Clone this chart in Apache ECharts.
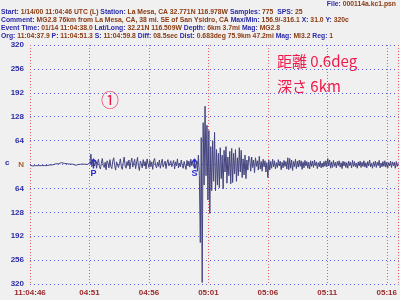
<!DOCTYPE html>
<html><head><meta charset="utf-8">
<script src="https://cdn.jsdelivr.net/npm/echarts@6/dist/echarts.min.js"></script>
<style>html,body{margin:0;padding:0;background:#f0f0f0}#c{width:400px;height:300px}</style>
</head><body><div id="c"></div>
<script>
// seismogram: 25 SPS, every 2nd sample kept (dt = 0.08 s)
var sampleStep = 0.08;
var amplitudes = [
-2,-3,-2,-4,-3,-2,-3,-4,-2,-3,-1,-2,-3,-2,-4,-3,-2,-1,-3,-2,-2,
-1,-2,0,-1,1,0,2,1,3,2,4,3,5,2,4,3,5,4,2,3,
2,1,3,0,1,-1,0,-2,1,-1,0,2,-1,1,-2,0,1,-1,2,0,-3,1,
4,28,-6,10,
8,-4,12,-10,5,14,-6,-12,3,16,-2,-8,6,-14,10,4,-9,13,-5,-11,
9,18,-3,-15,7,11,-8,2,15,-6,-13,5,20,-4,-10,8,-3,12,-12,6,
17,-7,-2,14,-11,4,19,-5,-16,9,3,-9,13,-4,8,-12,15,2,-8,11,
-6,7,-13,10,16,-3,-9,6,-5,12,-10,3,14,-7,-2,9,-11,5,13,-4,
-8,10,-6,3,11,-12,7,-3,15,-9,4,-6,12,-2,-10,8,5,-13,11,-4,9,-7,14,-3,6,-5,
4,-10,8,-18,25,-30,-209,72,-316,112,-55,156,-30,105,-95,91,-131,48,-70,64,-45,86,-70,40,-55,30,-62,45,
-38,25,-65,38,-20,48,-50,20,-30,35,-52,43,-48,30,-25,40,-45,18,-30,45,-20,38,-35,15,-28,25,-38,12,-15,22,
15,-18,20,-8,12,-22,18,-5,10,-15,22,-12,8,-18,14,-6,10,-20,5,-35,
12,-15,8,-10,14,-6,10,-12,5,-8,13,-4,9,-14,6,-9,11,-5,8,-12,
18,-14,16,-10,12,-16,8,-6,14,-11,9,-7,12,-5,10,-13,7,-9,11,-4,
8,-10,6,-12,10,-5,9,-8,12,-3,7,-11,5,-6,9,-9,4,-7,8,-5,
10,-6,16,-4,12,-10,7,-8,11,-5,6,-9,8,-3,10,-7,5,-11,9,-4,
7,-8,5,-10,9,-3,6,-9,11,-5,8,-6,4,-10,7,-4,9,-8,6,-5,
10,-7,5,-9,8,-4,12,-6,3,-10,7,-5,9,-8,6,-3,11,-9,4,-6,
8,-5,10,-7,6,-9,5,-4,9,-8,7,-3,6,-10,8,-5,4
];
var xTickLabels = ['11:04:46','04:51','04:56','05:01','05:06','05:11','05:16'];
var yTickValues = [-320,-256,-192,-128,-64,0,64,128,192,256,320];
var yTickLabels = ['320','256','192','128','64','N','64','128','192','256','320'];
var phasePicks = [{name:'P', t:5.3}, {name:'S', t:13.8}];
var headerLines = [
 [['Start: ','1/14/00 11:04:46 UTC (L) '],['Station: ','La Mesa, CA 32.771N 116.978W '],['Samples: ','775  '],['SPS: ','25']],
 [['Comment: ','MG2.8 76km from La Mesa, CA, 38 mi. SE of San Ysidro, CA '],['Max/Min: ','156.9/-316.1 '],['X: ','31.0 '],['Y: ','320c']],
 [['Event Time: ','01/14 11:04:38.0 '],['Lat/Long: ','32.21N 116.509W '],['Depth: ','6km 3.7mi '],['Mag: ','MG2.8']],
 [['Org: ','11:04:37.9 '],['P: ','11:04:51.3 '],['S: ','11:04:59.8 '],['Diff: ','08.5sec '],['Dist: ','0.683deg 75.9km 47.2mi '],['Mag: ','MI3.2 '],['Reg: ','1']]
];
var fileLine = [['File: ','000114a.kc1.psn']];
var notes = ['距離 0.6deg', '深さ 6km', '①'];

var BLUE = '#2a2aa8', BROWN = '#8a3a10', RED = '#f01848';
var seriesData = amplitudes.map(function(v,i){ return [+(i*sampleStep).toFixed(2), v]; });

function richLine(parts){
  return parts.map(function(p){ return '{l|'+p[0]+'}{v|'+p[1]+'}'; }).join('');
}
var rich = {
  l:{fill:BLUE, fontSize:6.8, fontFamily:'Liberation Sans', fontWeight:'bold'},
  v:{fill:BROWN, fontSize:6.8, fontFamily:'Liberation Sans', fontWeight:'bold'}
};

var chart = echarts.init(document.getElementById('c'), null, {renderer:'canvas'});
var graphics = [];
graphics.push({type:'text', right:4, top:1, style:{text:richLine(fileLine), rich:rich}});
headerLines.forEach(function(line, k){
  graphics.push({type:'text', left:1, top:9 + k*7.8, style:{text:richLine(line), rich:rich}});
});
graphics.push({type:'text', left:5, top:159, style:{text:'c', fill:BLUE, font:'bold 8px Liberation Sans'}});
graphics.push({type:'text', left:277, top:54, style:{text:notes[0], fill:RED, font:'15px "Noto Sans CJK JP"'}});
graphics.push({type:'text', left:277, top:79, style:{text:notes[1], fill:RED, font:'15px "Noto Sans CJK JP"'}});
graphics.push({type:'text', left:101, top:91, style:{text:notes[2], fill:RED, font:'18px "Noto Sans CJK JP"'}});

chart.setOption({
  backgroundColor:'#f0f0f0',
  animation:false,
  grid:{left:30, right:0, top:45, bottom:16},
  xAxis:{type:'value', min:0, max:31, interval:5,
    axisLine:{show:false}, axisTick:{show:false},
    axisLabel:{color:'#9a2828', fontSize:8, fontWeight:'bold', fontFamily:'Liberation Sans', margin:5,
      showMaxLabel:false,
      formatter:function(v){ var i=Math.round(v/5); return xTickLabels[i]||''; }},
    splitLine:{show:true, lineStyle:{color:'#e06060', type:[1,2], width:1}}},
  yAxis:{type:'value', min:-320, max:320, interval:64,
    axisLine:{show:false}, axisTick:{show:false},
    axisLabel:{fontSize:8, fontWeight:'bold', fontFamily:'Liberation Sans', margin:6,
      formatter:function(v){ var i=yTickValues.indexOf(Math.round(v)); var s=yTickLabels[i]; return v===0?'{n|'+s+'}':'{b|'+s+'}'; },
      rich:{b:{color:BLUE, fontSize:8, fontWeight:'bold'}, n:{color:'#b0602a', fontSize:8, fontWeight:'bold'}}},
    splitLine:{show:true, lineStyle:{color:'#5a5ae0', type:[1,3], width:1}}},
  series:[{type:'line', data:seriesData, showSymbol:false, symbol:'none',
    lineStyle:{color:'#44447e', width:1}}],
  graphic:graphics
});

// phase pick arrows placed through the axis scale
var extra = [];
phasePicks.forEach(function(p){
  var pt = chart.convertToPixel({gridIndex:0}, [p.t, 0]);
  var x = Math.round(pt[0]) + 0.5, y = pt[1];
  extra.push({type:'polyline', shape:{points:[[x,y+4],[x,y-5]]}, style:{stroke:'#2a2ad0', lineWidth:1.5}});
  extra.push({type:'polyline', shape:{points:[[x-3.5,y-1],[x,y-5],[x+3.5,y-1]]}, style:{stroke:'#2a2ad0', lineWidth:1.5, fill:null}});
  extra.push({type:'text', x:x, y:y+5, style:{text:p.name, fill:'#2a2ad0', font:'bold 9px Liberation Sans', align:'center', verticalAlign:'top'}});
});
chart.setOption({graphic:graphics.concat(extra)});
</script></body></html>
